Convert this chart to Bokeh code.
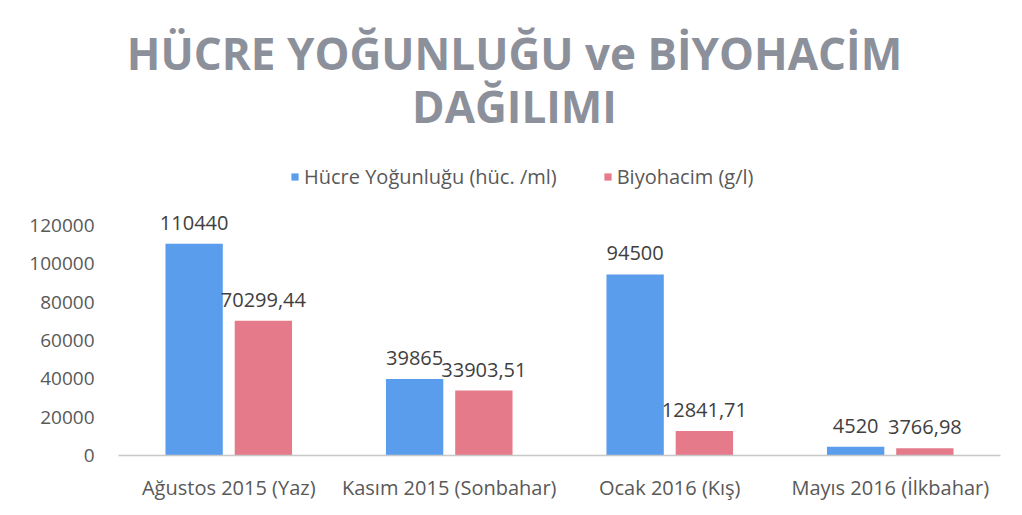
from bokeh.plotting import figure
from bokeh.models import Range1d, FixedTicker, Label, Legend, LegendItem, ColumnDataSource, BasicTickFormatter
from bokeh.transform import dodge
from bokeh.core.properties import value
from bokeh.embed import file_html
from bokeh.resources import INLINE

categories = ["Ağustos 2015 (Yaz)", "Kasım 2015 (Sonbahar)", "Ocak 2016 (Kış)", "Mayıs 2016 (İlkbahar)"]
hucre = [110440, 39865, 94500, 4520]
biyohacim = [70299.44, 33903.51, 12841.71, 3766.98]
series_names = ["Hücre Yoğunluğu (hüc. /ml)", "Biyohacim (g/l)"]
y_ticks = [0, 20000, 40000, 60000, 80000, 100000, 120000]
title_lines = ["HÜCRE YOĞUNLUĞU ve BİYOHACİM", "DAĞILIMI"]

hucre_labels = [str(v) for v in hucre]
biyo_labels = [f"{v:.2f}".replace(".", ",") for v in biyohacim]

FONT = "Open Sans"
BLUE = "#5a9ded"
PINK = "#e57a8b"
TXT = "#595959"

# layout geometry (pixels)
W, H = 1022, 515
LEFT, RIGHT, TOP = 118, 22, 8
AXIS_Y = 455          # pixel row of value 0
TOPTICK_Y = 225       # pixel row of the 120000 tick
frame_h = AXIS_Y - TOP
y_end = y_ticks[-1] * frame_h / (AXIS_Y - TOPTICK_Y)

src = ColumnDataSource(dict(cat=categories, hucre=hucre, biyo=biyohacim,
                            hl=hucre_labels, bl=biyo_labels))

p = figure(width=W, height=H, x_range=categories, y_range=Range1d(0, y_end),
           output_backend="svg", toolbar_location=None,
           min_border_left=LEFT, min_border_right=RIGHT, min_border_top=TOP,
           min_border_bottom=H - AXIS_Y)
p.outline_line_color = None
p.xgrid.grid_line_color = None
p.ygrid.grid_line_color = None
p.x_range.range_padding = 0

r1 = p.vbar(x=dodge("cat", -0.157, range=p.x_range), top="hucre", width=0.26,
            source=src, fill_color=BLUE, line_color=None)
r2 = p.vbar(x=dodge("cat", 0.157, range=p.x_range), top="biyo", width=0.26,
            source=src, fill_color=PINK, line_color=None)

p.text(x=dodge("cat", -0.157, range=p.x_range), y="hucre", text="hl", source=src,
       text_align="center", text_baseline="bottom", y_offset=-14,
       text_font=value(FONT), text_font_size="20px", text_color="#404040")
p.text(x=dodge("cat", 0.157, range=p.x_range), y="biyo", text="bl", source=src,
       text_align="center", text_baseline="bottom", y_offset=-14,
       text_font=value(FONT), text_font_size="20px", text_color="#404040")

# axes
p.yaxis.ticker = FixedTicker(ticks=y_ticks)
p.yaxis.formatter = BasicTickFormatter(use_scientific=False)
p.yaxis.axis_line_color = None
p.yaxis.major_tick_line_color = None
p.yaxis.minor_tick_line_color = None
p.yaxis.major_label_standoff = 18
p.yaxis.major_label_text_font = FONT
p.yaxis.major_label_text_font_size = "19px"
p.yaxis.major_label_text_color = TXT

p.xaxis.axis_line_color = "#c8c8c8"
p.xaxis.axis_line_width = 1.5
p.xaxis.major_tick_line_color = None
p.xaxis.minor_tick_line_color = None
p.xaxis.major_label_standoff = 12
p.xaxis.major_label_text_font = FONT
p.xaxis.major_label_text_font_size = "20px"
p.xaxis.major_label_text_color = TXT

# title (screen units measured from the frame's bottom-left corner)
cx = 514 - LEFT
p.add_layout(Label(x=cx, y=AXIS_Y - 52, x_units="screen", y_units="screen", text=title_lines[0],
                   text_align="center", text_baseline="alphabetic",
                   text_font=FONT, text_font_size="44px", text_font_style="bold",
                   text_color="#8c909a"))
p.add_layout(Label(x=cx, y=AXIS_Y - 105, x_units="screen", y_units="screen", text=title_lines[1],
                   text_align="center", text_baseline="alphabetic",
                   text_font=FONT, text_font_size="44px", text_font_style="bold",
                   text_color="#8c909a"))

legend = Legend(items=[LegendItem(label=series_names[0], renderers=[r1]),
                       LegendItem(label=series_names[1], renderers=[r2])],
                location=(290 - LEFT, AXIS_Y - 190), orientation="horizontal", padding=0, margin=0,
                spacing=46, glyph_width=9, glyph_height=9, label_standoff=5,
                label_text_font=FONT, label_text_font_size="20px", label_text_color=TXT,
                border_line_alpha=0, background_fill_alpha=0)
p.add_layout(legend)

open("out.html", "w").write(file_html(p, INLINE))
